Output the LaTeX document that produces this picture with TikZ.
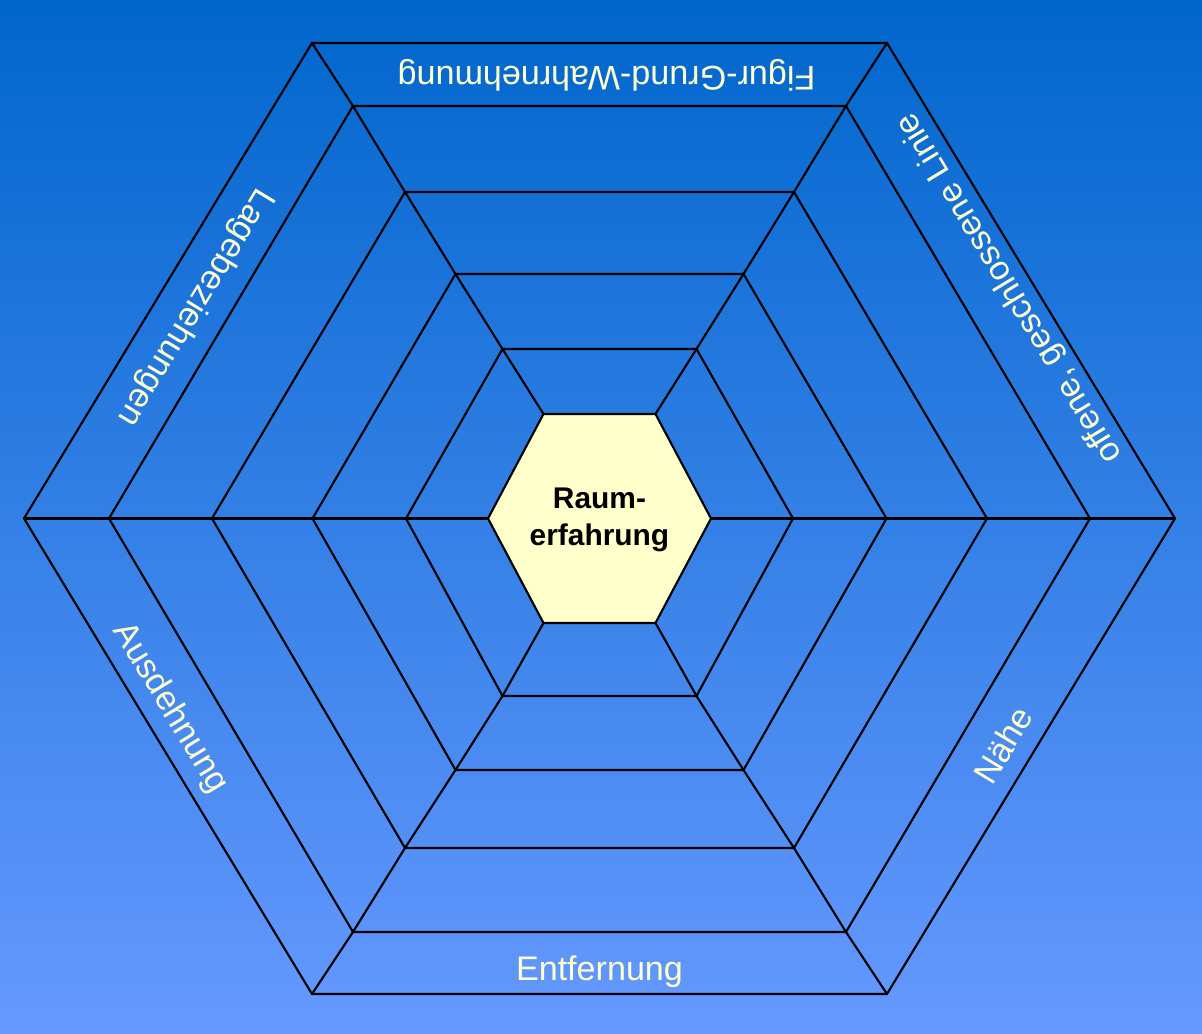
\documentclass[tikz,border=0pt]{standalone}
\usepackage{fontspec}
\setmainfont{Liberation Sans}
\usetikzlibrary{calc}
\definecolor{bgtop}{HTML}{0066CC}
\definecolor{bgbot}{HTML}{6699FF}
\definecolor{cream}{HTML}{FFFFCC}

\begin{document}
\begin{tikzpicture}[x=0.01cm,y=0.01cm,
    rim/.style={draw=black,line width=0.6pt},
    lbl/.style={text=cream,inner sep=0pt,font=\fontsize{9.7}{11.6}\selectfont},
    core/.style={align=center,inner sep=0pt,font=\fontsize{8.5}{10.5}\selectfont\bfseries}]
  % background
  \shade[top color=bgtop,bottom color=bgbot] (-599.5,-515.5) rectangle (602.5,518.5);
  \useasboundingbox (-599.5,-515.5) rectangle (602.5,518.5);
  % corner points of the rings, outer to inner
  \foreach \i/\a/\b/\t/\u in {0/575.5/287.5/475.5/475.5, 1/490.5/246.5/412.5/413.5,
      2/387.5/194.5/326.5/329.5, 3/287/144/244.5/251.5, 4/193.5/97/169.5/177.5,
      5/111.5/56/104.5/104.5} {
    \coordinate (h\i-1) at (\a,0);
    \coordinate (h\i-2) at (\b,\t);
    \coordinate (h\i-3) at (-\b,\t);
    \coordinate (h\i-4) at (-\a,0);
    \coordinate (h\i-5) at (-\b,-\u);
    \coordinate (h\i-6) at (\b,-\u);
  }
  \foreach \i in {0,...,4}
    \draw[rim] (h\i-1) -- (h\i-2) -- (h\i-3) -- (h\i-4) -- (h\i-5) -- (h\i-6) -- cycle;
  \foreach \k in {1,...,6}
    \draw[rim] (h0-\k) -- (h1-\k) -- (h2-\k) -- (h3-\k) -- (h4-\k) -- (h5-\k);
  % centre
  \draw[rim,fill=cream] (h5-1) -- (h5-2) -- (h5-3) -- (h5-4) -- (h5-5) -- (h5-6) -- cycle;
  \node[core] (raum) at (0,-1.5) {Raum-\\erfahrung};
  % ring labels
  \node[lbl,rotate=180] (figur) at (7,443.5) {Figur-Grund-Wahrnehmung};
  \node[lbl,rotate=121.2] (linie) at (410.5,230.5) {offene, geschlossene Linie};
  \node[lbl,rotate=58.8] (naehe) at (403.5,-226.5) {Nähe};
  \node[lbl] (entf) at (0,-453) {Entfernung};
  \node[lbl,rotate=-58.8] (ausd) at (-429.5,-189.5) {Ausdehnung};
  \node[lbl,rotate=238.8] (lage) at (-404.5,211.5) {Lagebeziehungen};
\end{tikzpicture}
\end{document}
